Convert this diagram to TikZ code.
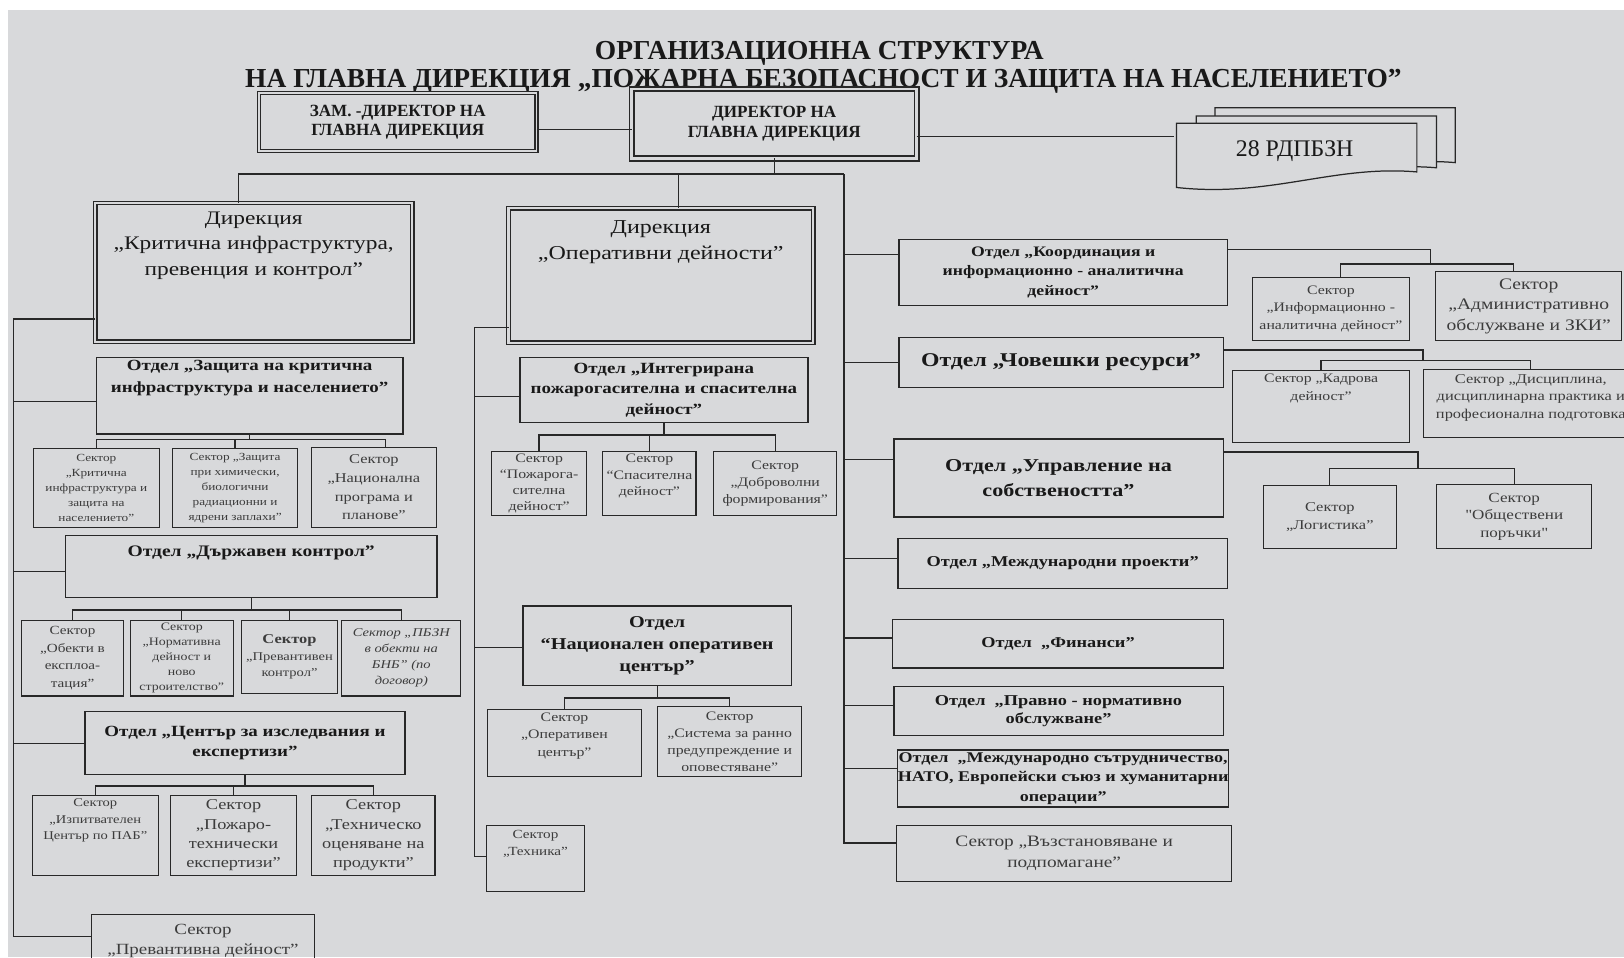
\documentclass[tikz,border=0pt]{standalone}
\usepackage{fontspec}
\setmainfont{Liberation Serif}
\newfontfamily\wf[FakeStretch=1.22]{Liberation Serif}
\usetikzlibrary{calc}
\definecolor{bg}{RGB}{216,217,219}
\definecolor{lc}{RGB}{40,40,40}
\definecolor{tc}{RGB}{25,25,25}
\definecolor{sc}{RGB}{60,60,60}
\newcommand\fz[2]{\fontsize{#1}{#2}\selectfont}
\newcommand\bx[7][]{\node[box,minimum width={(#5-#3)*1pt},minimum height={(#6-#4)*1pt},#1] (#2) at ({(#3+#5)/2},{(#4+#6)/2}) {#7};}
\newcommand\docl[4]{\filldraw[fill=bg,draw=lc,line width=1.2pt] (#1,#2) -- (#3,#2) -- (#3,{#4-15}) .. controls ({#3-80},{#4-22}) and ({#1+90},{#4+10}) .. (#1,#4) -- cycle;}
\begin{document}
\begin{tikzpicture}[x=1pt,y=-1pt,
  box/.style={draw=lc,line width=1.3pt,inner sep=0pt,outer sep=0pt,align=center,text=tc},
  dbl/.style={double=bg,double distance=1.8pt,line width=1.1pt},
  sbox/.style={line width=1pt,text=sc},
  conn/.style={draw=lc,line width=1.2pt},
  lbl/.style={inner sep=0pt,align=center,text=tc},
  slbl/.style={inner sep=0pt,align=center,text=sc}]
\useasboundingbox (0,0) rectangle (1568,924);
\clip (0,0) rectangle (1568,924);
\fill[white] (0,0) rectangle (1568,924);
\fill[bg] (8,10) rectangle (1568,924);

% title
\node[lbl,anchor=base,font=\bfseries\fz{26.5}{30}] (t1) at (791,57) {ОРГАНИЗАЦИОННА СТРУКТУРА};
\node[lbl,anchor=base,font=\bfseries\fz{26.5}{30}] (t2) at (795,84) {НА ГЛАВНА ДИРЕКЦИЯ „ПОЖАРНА БЕЗОПАСНОСТ И ЗАЩИТА НА НАСЕЛЕНИЕТО”};

% top
\bx[dbl,font=\bfseries\fz{16.5}{19}]{zam}{250}{90}{518}{146}{ЗАМ. -ДИРЕКТОР НА\\ГЛАВНА ДИРЕКЦИЯ}
\bx[dbl,line width=1.7pt,double distance=2.6pt,font=\bfseries\fz{16.5}{19}]{dir}{610}{86}{885}{153}{ДИРЕКТОР НА\\ГЛАВНА ДИРЕКЦИЯ}
\docl{1173}{104}{1405}{172}
\docl{1155}{112}{1387}{177}
\docl{1136}{119}{1368}{181}
\node[lbl,font=\fz{23}{26},minimum width=232pt,minimum height=50pt] (rd) at (1250,146) {28 РДПБЗН};

% directorates
\bx[dbl,line width=1.3pt,double distance=2.2pt]{d1}{92}{196}{398}{330}{}
\node[lbl,anchor=north,font=\wf\fz{18.5}{25}] (d1t) at (245,204) {Дирекция\\„Критична инфраструктура,\\превенция и контрол”};
\bx[dbl,line width=1.3pt,double distance=2.2pt]{d2}{491}{201}{785}{331}{}
\node[lbl,anchor=north,font=\wf\fz{19}{25}] (d2t) at (638,213) {Дирекция\\„Оперативни дейности”};

% left column
\bx{zas}{93}{345}{389}{419}{}
\node[lbl,anchor=north,font=\wf\bfseries\fz{15}{20.5}] (zast) at (241,348) {Отдел „Защита на критична\\инфраструктура и населението”};
\bx[sbox,font=\wf\fz{10.5}{14.5}]{s1}{32}{433}{154}{509}{Сектор\\„Критична\\инфраструктура и\\защита на\\населението”}
\bx[sbox,font=\wf\fz{10.5}{14.5}]{s2}{167}{433}{287}{509}{Сектор „Защита\\при химически,\\биологични\\радиационни и\\ядрени заплахи”}
\bx[sbox,font=\wf\fz{13}{18}]{s3}{301}{432}{421}{509}{Сектор\\„Национална\\програма и\\планове”}

\bx{dk}{63}{517}{422}{577}{}
\node[lbl,anchor=north,font=\wf\bfseries\fz{15.5}{20}] (dkt) at (242.5,527) {Отдел „Държавен контрол”};
\bx[sbox,font=\wf\fz{12}{17}]{k1}{21}{599}{119}{672}{Сектор\\„Обекти в\\експлоа-\\тация”}
\bx[sbox,font=\wf\fz{11}{14.5}]{k2}{126}{599}{225}{672}{Сектор\\„Нормативна\\дейност и\\ново\\строителство”}
\bx[sbox,font=\wf\fz{11.5}{16}]{k3}{233}{599}{326}{670}{{\bfseries\fz{13}{16}Сектор}\\„Превантивен\\контрол”}
\bx[sbox,font=\wf\itshape\fz{11.5}{15.5}]{k4}{330}{599}{445}{672}{Сектор „ПБЗН\\в обекти на\\БНБ” (по\\договор)}

\bx[font=\wf\bfseries\fz{15}{20}]{cen}{82}{687}{391}{748}{Отдел „Център за изследвания и\\експертизи”}
\bx[sbox]{c1}{31}{768}{153}{845}{}
\node[slbl,anchor=north,font=\wf\fz{11.5}{16}] (c1t) at (92,771) {Сектор\\„Изпитвателен\\Център по ПАБ”};
\bx[sbox,font=\wf\fz{14.5}{18.5}]{c2}{165}{768}{286}{845}{Сектор\\„Пожаро-\\технически\\експертизи”}
\bx[sbox,font=\wf\fz{14.5}{18.5}]{c3}{301}{768}{420}{845}{Сектор\\„Техническо\\оценяване на\\продукти”}
\bx[sbox,font=\wf\fz{15}{20}]{prd}{88}{883}{304}{934}{Сектор\\„Превантивна дейност”}

% middle column
\bx[font=\wf\bfseries\fz{15}{20}]{intg}{502}{345}{780}{408}{Отдел „Интегрирана\\пожарогасителна и спасителна\\дейност”}
\bx[sbox,font=\wf\fz{12.5}{15.5}]{sa}{475}{436}{566}{498}{Сектор\\“Пожарога-\\сителна\\дейност”}
\bx[sbox]{sb}{582}{436}{672}{498}{}
\node[slbl,anchor=north,font=\wf\fz{12.5}{16}] (sbt) at (627,438) {Сектор\\“Спасителна\\дейност”};
\bx[sbox,font=\wf\fz{12.5}{16.5}]{sc}{689}{436}{808}{498}{Сектор\\„Доброволни\\формирования”}
\bx[font=\wf\bfseries\fz{16}{21}]{noc}{505}{585}{764}{662}{Отдел\\“Национален оперативен\\център”}
\bx[sbox]{op}{471}{685}{619}{750}{}
\node[slbl,anchor=north,font=\wf\fz{12.5}{17}] (opt) at (545,688) {Сектор\\„Оперативен\\център”};
\bx[sbox,font=\wf\fz{12.5}{16.5}]{sis}{635}{682}{774}{750}{Сектор\\„Система за ранно\\предупреждение и\\оповестяване”}
\bx[sbox]{tex}{470}{797}{564}{861}{}
\node[slbl,anchor=north,font=\wf\fz{12}{17}] (text) at (517,801) {Сектор\\„Техника”};

% right column
\bx[font=\wf\bfseries\fz{14}{18.5}]{koo}{868}{231}{1185}{295}{Отдел „Координация и\\информационно - аналитична\\дейност”}
\bx[font=\wf\bfseries\fz{18.8}{22}]{cho}{868}{326}{1181}{374}{Отдел „Човешки ресурси”}
\bx[font=\wf\bfseries\fz{17.5}{24}]{upr}{863}{424}{1181}{499}{Отдел „Управление на\\собствеността”}
\bx[font=\wf\bfseries\fz{14.5}{18}]{mp}{867}{520}{1185}{568}{Отдел „Международни проекти”}
\bx[font=\wf\bfseries\fz{14.5}{18}]{fin}{862}{598}{1181}{645}{Отдел\ \ „Финанси”}
\bx[font=\wf\bfseries\fz{14.5}{18}]{prv}{863}{663}{1181}{710}{Отдел\ \ „Правно - нормативно\\обслужване”}
\bx[font=\wf\bfseries\fz{14.3}{19}]{msu}{867}{724}{1186}{779}{Отдел\ \ „Международно сътрудничество,\\НАТО, Европейски съюз и хуманитарни\\операции”}
\bx[sbox,font=\wf\fz{15.3}{20}]{vaz}{866}{797}{1189}{851}{Сектор „Възстановяване и\\подпомагане”}

\bx[sbox,font=\wf\fz{12.5}{16.5}]{inf}{1209}{267.5}{1361}{329}{Сектор\\„Информационно -\\аналитична дейност”}
\bx[sbox,font=\wf\fz{15.5}{19.5}]{adm}{1386}{262.5}{1566}{329}{Сектор\\„Административно\\обслужване и ЗКИ”}
\bx[sbox]{kad}{1190}{358}{1361}{427}{}
\node[slbl,anchor=north,font=\wf\fz{12.5}{17}] (kadt) at (1275.5,361) {Сектор „Кадрова\\дейност”};
\bx[sbox]{dis}{1374}{357}{1582}{422}{}
\node[slbl,anchor=north,font=\wf\fz{13}{17}] (dist) at (1478,361) {Сектор „Дисциплина,\\дисциплинарна практика и\\професионална подготовка};
\bx[sbox,font=\wf\fz{13}{17}]{log}{1220}{469}{1348}{530}{Сектор\\„Логистика”}
\bx[sbox,font=\wf\fz{13.5}{16.5}]{obs}{1387}{468}{1537}{530}{Сектор\\"Обществени\\поръчки"}

% ---- connectors ----
\draw[conn] ([yshift=-7pt]zam.east) -- ([yshift=-7pt]zam.east -| dir.west);
\draw[conn] ([yshift=-12.5pt]dir.east) -- ([yshift=-12.5pt]dir.east -| rd.west);
\coordinate (rsp) at (815,168);
\draw[conn] (dir.south) -- (dir.south |- rsp);
\draw[conn] ([xshift=-15pt]d1.north) |- (rsp);
\draw[conn] ([xshift=17pt]d2.north) -- ([xshift=17pt]d2.north |- rsp);
\draw[conn] (rsp) |- ([yshift=10pt]vaz.west);
\draw[conn] ([yshift=17pt]koo.west) -- ([yshift=17pt]koo.west -| rsp);
\draw[conn] (cho.west) -- (cho.west -| rsp);
\draw[conn] ([yshift=18pt]upr.west) -- ([yshift=18pt]upr.west -| rsp);
\draw[conn] ([yshift=5pt]mp.west) -- ([yshift=5pt]mp.west -| rsp);
\draw[conn] ([yshift=5.5pt]fin.west) -- ([yshift=5.5pt]fin.west -| rsp);
\draw[conn] ([yshift=5.5pt]prv.west) -- ([yshift=5.5pt]prv.west -| rsp);
\draw[conn] ([yshift=9.5pt]msu.west) -- ([yshift=9.5pt]msu.west -| rsp);

\coordinate (kb) at (1381,255);
\draw[conn] ([yshift=22pt]koo.east) -| (kb);
\draw[conn] ([xshift=9pt]inf.north) -- ([xshift=9pt]inf.north |- kb) -- ([xshift=-15pt]adm.north |- kb) -- ([xshift=-15pt]adm.north);
\coordinate (cb) at (1374,348);
\draw[conn] ([yshift=12pt]cho.east) -| (cb);
\draw[conn] (kad.north) -- (kad.north |- cb) -- (dis.north |- cb) -- (dis.north);
\coordinate (ub) at (1369,452.7);
\draw[conn] ([yshift=25pt]upr.east) -| (ub);
\draw[conn] (log.north) -- (log.north |- ub) -- (obs.north |- ub) -- (obs.north);

% middle spine
\coordinate (msp) at (458,316);
\draw[conn] ([yshift=-50pt]d2.west) -- (msp) |- ([yshift=2pt]tex.west);
\draw[conn] ([yshift=-6.5pt]intg.west) -- ([yshift=-6.5pt]intg.west -| msp);
\draw[conn] ([yshift=-1.5pt]noc.west) -- ([yshift=-1.5pt]noc.west -| msp);
\coordinate (ib) at (0,420);
\draw[conn] (intg.south) -- (intg.south |- ib);
\draw[conn] (sa.north) -- (sa.north |- ib) -- (sc.north |- ib) -- (sc.north);
\draw[conn] (sb.north) -- (sb.north |- ib);
\coordinate (nb) at (0,674);
\draw[conn] (noc.south) -- (noc.south |- nb);
\draw[conn] (op.north) -- (op.north |- nb) -- (sis.north |- nb) -- (sis.north);

% left spine
\coordinate (lsp) at (13,308);
\draw[conn] ([yshift=-45pt]d1.west) -- (lsp) |- ([yshift=4.5pt]prd.west);
\draw[conn] ([yshift=-6pt]zas.west) -- ([yshift=-6pt]zas.west -| lsp);
\draw[conn] ([yshift=-5pt]dk.west) -- ([yshift=-5pt]dk.west -| lsp);
\draw[conn] (cen.west) -- (cen.west -| lsp);
\coordinate (zb) at (0,424);
\draw[conn] (zas.south) -- (zas.south |- zb);
\draw[conn] (s1.north) -- (s1.north |- zb) -- ([xshift=11pt]s3.north |- zb) -- ([xshift=11pt]s3.north);
\draw[conn] (s2.north) -- (s2.north |- zb);
\coordinate (db) at (0,589);
\draw[conn] (dk.south) -- (dk.south |- db);
\draw[conn] (k1.north) -- (k1.north |- db) -- (k4.north |- db) -- (k4.north);
\draw[conn] (k2.north) -- (k2.north |- db);
\draw[conn] (k3.north) -- (k3.north |- db);
\coordinate (eb) at (0,759);
\draw[conn] (cen.south) -- (cen.south |- eb);
\draw[conn] (c1.north) -- (c1.north |- eb) -- (c3.north |- eb) -- (c3.north);
\draw[conn] (c2.north) -- (c2.north |- eb);
\end{tikzpicture}
\end{document}
